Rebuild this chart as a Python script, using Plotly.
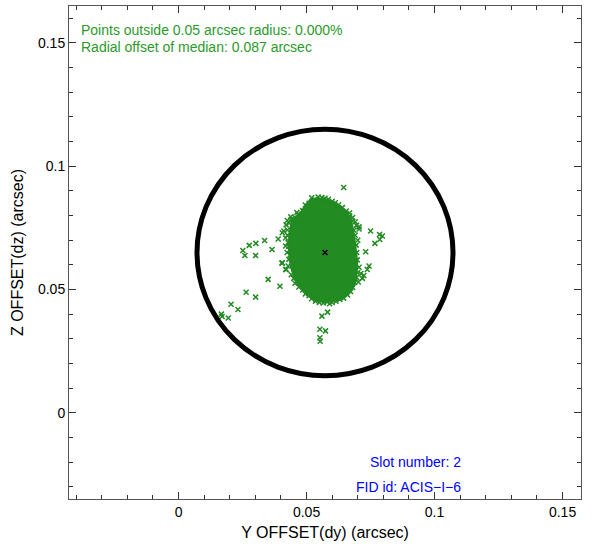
import math

import plotly.graph_objects as go

# Fid light centroid offsets (arcsec)
median_dy = 0.0572
median_dz = 0.0650
radius = 0.05
pct_outside = 0.0
slot = 2
fid_id = "ACIS\u2212I\u22126"

# outline of the dense core of the cloud
core_dy = [0.0540, 0.0578, 0.0610, 0.0636, 0.0658, 0.0671, 0.0679, 0.0685, 0.0691,
           0.0696, 0.0692, 0.0684, 0.0665, 0.0638, 0.0600, 0.0563, 0.0526, 0.0500,
           0.0474, 0.0454, 0.0440, 0.0434, 0.0434, 0.0440, 0.0452, 0.0478, 0.0494,
           0.0512]
core_dz = [0.0868, 0.0861, 0.0846, 0.0830, 0.0805, 0.0778, 0.0747, 0.0705, 0.0655,
           0.0603, 0.0556, 0.0515, 0.0486, 0.0466, 0.0454, 0.0452, 0.0462, 0.0484,
           0.0513, 0.0551, 0.0598, 0.0655, 0.0712, 0.0753, 0.0782, 0.0810, 0.0835,
           0.0858]

# individual samples around the edge of the core
edge_dy = [0.0520, 0.0545, 0.0560, 0.0585, 0.0600, 0.0532, 0.0510, 0.0495, 0.0572,
           0.0425, 0.0440, 0.0455, 0.0470, 0.0432, 0.0462, 0.0485, 0.0448, 0.0478,
           0.0438, 0.0452, 0.0466, 0.0420, 0.0445,
           0.0411, 0.0418, 0.0405, 0.0418, 0.0431, 0.0428, 0.0433, 0.0436, 0.0425,
           0.0428, 0.0424, 0.0430,
           0.0450, 0.0462, 0.0470, 0.0485, 0.0495, 0.0510, 0.0520, 0.0440, 0.0455,
           0.0535, 0.0550, 0.0565, 0.0580, 0.0600, 0.0615, 0.0630, 0.0645, 0.0590,
           0.0660, 0.0672, 0.0680, 0.0688, 0.0695, 0.0700, 0.0705, 0.0712, 0.0718,
           0.0698, 0.0696, 0.0694, 0.0700, 0.0690, 0.0685, 0.0695, 0.0705, 0.0702,
           0.0678, 0.0668, 0.0655, 0.0640, 0.0625, 0.0612, 0.0668, 0.0680, 0.0690]
edge_dz = [0.0872, 0.0875, 0.0873, 0.0866, 0.0858, 0.0864, 0.0850, 0.0843, 0.0870,
           0.0780, 0.0785, 0.0792, 0.0800, 0.0770, 0.0812, 0.0820, 0.0770, 0.0790,
           0.0795, 0.0780, 0.0805, 0.0762, 0.0773,
           0.0737, 0.0709, 0.0608, 0.0581, 0.0622, 0.0690, 0.0660, 0.0640, 0.0720,
           0.0595, 0.0650, 0.0675,
           0.0545, 0.0530, 0.0510, 0.0498, 0.0482, 0.0475, 0.0462, 0.0560, 0.0525,
           0.0452, 0.0447, 0.0445, 0.0449, 0.0447, 0.0452, 0.0459, 0.0465, 0.0442,
           0.0478, 0.0492, 0.0508, 0.0528, 0.0548, 0.0568, 0.0590, 0.0565, 0.0545,
           0.0620, 0.0650, 0.0680, 0.0700, 0.0720, 0.0740, 0.0760, 0.0745, 0.0530,
           0.0778, 0.0798, 0.0818, 0.0832, 0.0844, 0.0852, 0.0810, 0.0792, 0.0775]

# scattered outliers
out_dy = [0.0645, 0.0750, 0.0785, 0.0796, 0.0786, 0.0767, 0.0731, 0.0705, 0.0744,
          0.0737, 0.0724, 0.0336, 0.0302, 0.0276, 0.0251, 0.0259, 0.0301, 0.0365,
          0.0389, 0.0405, 0.0425, 0.0418, 0.0404, 0.0421, 0.0350, 0.0396, 0.0264,
          0.0301, 0.0205, 0.0232, 0.0167, 0.0194, 0.0170, 0.0537, 0.0560, 0.0582,
          0.0552, 0.0574, 0.0552, 0.0553]
out_dz = [0.0914, 0.0737, 0.0723, 0.0717, 0.0703, 0.0687, 0.0653, 0.0754, 0.0595,
          0.0581, 0.0557, 0.0699, 0.0687, 0.0679, 0.0658, 0.0638, 0.0638, 0.0662,
          0.0705, 0.0730, 0.0741, 0.0676, 0.0607, 0.0581, 0.0541, 0.0513, 0.0489,
          0.0469, 0.0440, 0.0419, 0.0400, 0.0384, 0.0390, 0.0458, 0.0392, 0.0408,
          0.0339, 0.0332, 0.0304, 0.0290]

green = "#228b22"
font = "Liberation Sans, Arial, sans-serif"

fig = go.Figure()

fig.add_trace(go.Scatter(
    x=core_dy + core_dy[:1], y=core_dz + core_dz[:1],
    mode="lines", fill="toself", fillcolor=green,
    line=dict(color=green, width=3, shape="spline"),
    hoverinfo="skip",
))

sample_style = dict(symbol="x-thin", size=5, color=green, line=dict(color=green, width=1.5))
fig.add_trace(go.Scatter(x=edge_dy, y=edge_dz, mode="markers", marker=sample_style))
fig.add_trace(go.Scatter(x=out_dy, y=out_dz, mode="markers", marker=sample_style))

fig.add_trace(go.Scatter(
    x=[median_dy], y=[median_dz], mode="markers",
    marker=dict(symbol="x-thin", size=5, color="black", line=dict(color="black", width=1.5)),
))

# circle of given radius around the median
fig.add_shape(
    type="circle", xref="x", yref="y",
    x0=median_dy - radius, x1=median_dy + radius,
    y0=median_dz - radius, y1=median_dz + radius,
    line=dict(color="black", width=5),
)

offset = math.hypot(median_dy, median_dz)
info_lines = [
    (f"Points outside {radius:.2f} arcsec radius: {pct_outside:.3f}%", 0.951),
    (f"Radial offset of median: {offset:.3f} arcsec", 0.917),
]
for text, ypos in info_lines:
    fig.add_annotation(
        xref="paper", yref="paper", x=0.02, y=ypos, xanchor="left", yanchor="middle",
        showarrow=False, text=text,
        font=dict(family=font, size=14, color="#2b9a2b"),
    )

slot_lines = [(f"Slot number: {slot}", 0.076), (f"FID id: {fid_id}", 0.025)]
for text, ypos in slot_lines:
    fig.add_annotation(
        xref="paper", yref="paper", x=0.77, y=ypos, xanchor="right", yanchor="middle",
        showarrow=False, text=text,
        font=dict(family=font, size=14, color="blue"),
    )

axis_common = dict(
    showgrid=False, zeroline=False, automargin=False,
    showline=True, linecolor="#555", linewidth=1, mirror="ticks",
    ticks="inside", ticklen=7, tickcolor="#333", tickwidth=1,
    dtick=0.05, tick0=0,
    minor=dict(dtick=0.01, ticks="inside", ticklen=4, tickcolor="#333"),
    tickfont=dict(family=font, size=14, color="black"),
)

fig.update_xaxes(
    range=[median_dy - 0.1, median_dy + 0.1],
    title=dict(text="Y OFFSET(dy) (arcsec)", font=dict(family=font, size=16, color="black"), standoff=8),
    **axis_common,
)
fig.update_yaxes(
    range=[median_dz - 0.1, median_dz + 0.1],
    title=dict(text="Z OFFSET(dz) (arcsec)", font=dict(family=font, size=16, color="black"), standoff=10),
    **axis_common,
)

fig.update_layout(
    width=597, height=552,
    margin=dict(l=69, r=16, t=6, b=53),
    paper_bgcolor="white", plot_bgcolor="white",
    showlegend=False,
)

fig.write_html(
    "out.html",
    config={"displayModeBar": False},
    post_script="document.body.style.margin='0';",
)
